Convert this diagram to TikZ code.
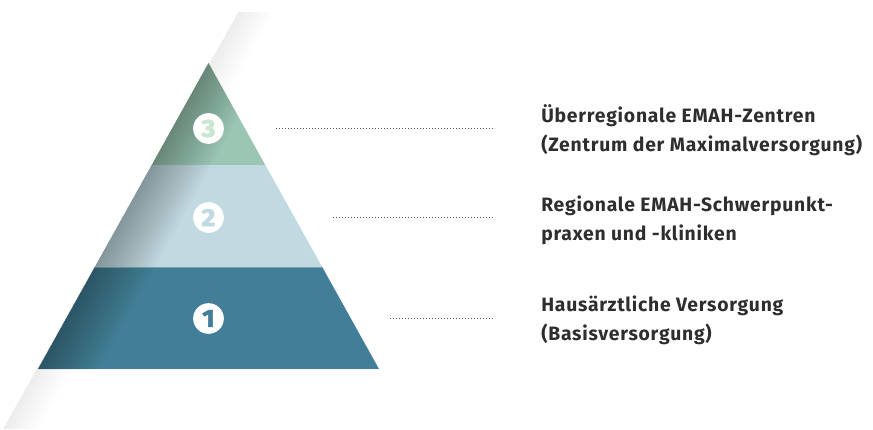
\documentclass[tikz,border=0pt]{standalone}
\usepackage{fontspec}
\setmainfont{Fira Sans}
\newfontfamily\labfont{Fira Sans}[LetterSpace=4]
\newfontfamily\digfont{Fira Sans}[BoldFeatures={FakeBold=2.5,FakeStretch=1.1}]
\usetikzlibrary{calc}
\definecolor{tierA}{HTML}{9CC6B4}
\definecolor{tierB}{HTML}{C1DAE1}
\definecolor{tierC}{HTML}{427E97}
\definecolor{digA}{HTML}{C8E6D0}
\definecolor{txt}{HTML}{2E2E2E}
\definecolor{dotc}{HTML}{555555}
\tikzset{
  numcirc/.style={circle,fill=white,minimum size=23pt,inner sep=0pt,font=\digfont\bfseries\fontsize{18.5}{18.5}\selectfont},
  label/.style={anchor=base west,align=left,inner sep=0pt,text=txt,font=\labfont\bfseries\fontsize{14.5}{21.4}\selectfont},
  dotline/.style={draw=dotc,line width=0.7pt,dash pattern=on 0.7pt off 1.55pt}
}
\begin{document}
\begin{tikzpicture}[x=0.75pt,y=-0.75pt]
\useasboundingbox (0,0) rectangle (873,429);
% outer shadow
\foreach \d in {2,4,...,36}{
  \fill[black,opacity=0.005] (238.5,12) -- (3,429) -- ({3+\d},429) -- ({238.5+\d},12) -- cycle;
}
% tiers
\fill[tierA] (208.5,63) -- (265.3,165) -- (151.7,165) -- cycle;
\fill[tierB] (151.7,165) -- (265.3,165) -- (322.2,267) -- (94.8,267) -- cycle;
\fill[tierC] (94.8,267) -- (322.2,267) -- (379,369) -- (38,369) -- cycle;
% inner shading
\begin{scope}
\clip (208.5,63) -- (379,369) -- (38,369) -- cycle;
\foreach \d in {3,6,...,60}{
  \fill[black,opacity=0.016] (239.1,8) -- (2.9,432) -- ({2.9+\d},432) -- ({239.1+\d},8) -- cycle;
}
\end{scope}
\draw[white,opacity=0.25,line width=0.6pt] (94.8,267) -- (322.2,267);
\draw[white,opacity=0.4,line width=0.6pt] (38,369) -- (379,369);
% circles
\node[numcirc,text=digA] (c3) at (208.5,128.5) {3};
\node[numcirc,text=tierB] (c2) at (208.5,217.5) {2};
\node[numcirc,text=tierC] (c1) at (208.5,318.5) {1};
% dotted leaders
\coordinate (s3) at (276,128); \coordinate (e3) at (495,128);
\coordinate (s2) at (333,217); \coordinate (e2) at (495,217);
\coordinate (s1) at (390,318); \coordinate (e1) at (495,318);
\draw[dotline] (s3) -- (e3);
\draw[dotline] (s2) -- (e2);
\draw[dotline] (s1) -- (e1);
% labels (anchor = baseline of last line)
\node[label] (t3) at (541,151) {Überregionale EMAH-Zentren\\(Zentrum der Maximalversorgung)};
\node[label] (t2) at (541,240) {Regionale EMAH-Schwerpunkt-\\praxen und -kliniken};
\node[label] (t1) at (541,340) {Hausärztliche Versorgung\\(Basisversorgung)};
\end{tikzpicture}
\end{document}
